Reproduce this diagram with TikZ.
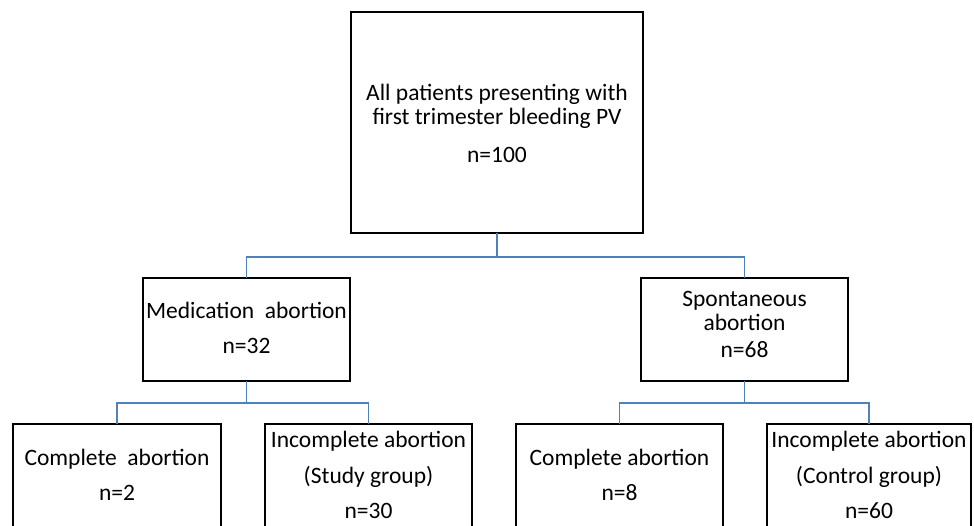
\documentclass[tikz,border=0pt]{standalone}
\usepackage{fontspec}
\setmainfont{Carlito}
\definecolor{linkblue}{RGB}{79,129,189}
\begin{document}
\begin{tikzpicture}[x=1pt,y=-1pt,
  box/.style={draw=black,line width=1.8pt,inner sep=0pt,outer sep=0pt,minimum width=207pt},
  lbl/.style={anchor=base,align=center,inner sep=0pt,font=\fontsize{23.5}{24.5}\selectfont},
  link/.style={draw=linkblue,line width=1.8pt}]
\useasboundingbox (0,0) rectangle (974,525);
\clip (0,0) rectangle (974,525);
% boxes
\node[box,minimum width=292pt,minimum height=221pt] (root) at (497,122.5) {};
\node[box,minimum height=103pt] (med) at (246.5,329.5) {};
\node[box,minimum height=103pt] (spont) at (744.5,329.5) {};
\node[box,minimum width=208pt,minimum height=140pt] (compL) at (117,494) {};
\node[box,minimum height=140pt] (incL) at (368.5,494) {};
\node[box,minimum height=140pt] (compR) at (619.5,494) {};
\node[box,minimum width=204pt,minimum height=140pt] (incR) at (869,494) {};
% texts (anchor base = baseline of the last line)
\node[lbl] (troot) at (497,162) {All patients presenting with\\first trimester bleeding PV\\[13pt]n=100};
\node[lbl] (tmed) at (246.5,353) {Medication~ abortion\\[10.5pt]n=32};
\node[lbl] (tspont) at (744.5,357) {Spontaneous\\abortion\\[2pt]n=68};
\node[lbl] (tcompL) at (117,500) {Complete~ abortion\\[10.5pt]n=2};
\node[lbl] (tincL) at (368.5,518) {Incomplete abortion\\[11pt](Study group)\\[10.5pt]n=30};
\node[lbl] (tcompR) at (619.5,500) {Complete abortion\\[10.5pt]n=8};
\node[lbl] (tincR) at (869,518) {Incomplete abortion\\[11pt](Control group)\\[10.5pt]n=60};
% connectors
\draw[link] (root.south) -- ++(0,24) -| (med.north);
\draw[link] (root.south) -- ++(0,24) -| (spont.north);
\draw[link] (med.south) -- ++(0,22) -| (compL.north);
\draw[link] (med.south) -- ++(0,22) -| (incL.north);
\draw[link] (spont.south) -- ++(0,22) -| (compR.north);
\draw[link] (spont.south) -- ++(0,22) -| (incR.north);
\end{tikzpicture}
\end{document}
